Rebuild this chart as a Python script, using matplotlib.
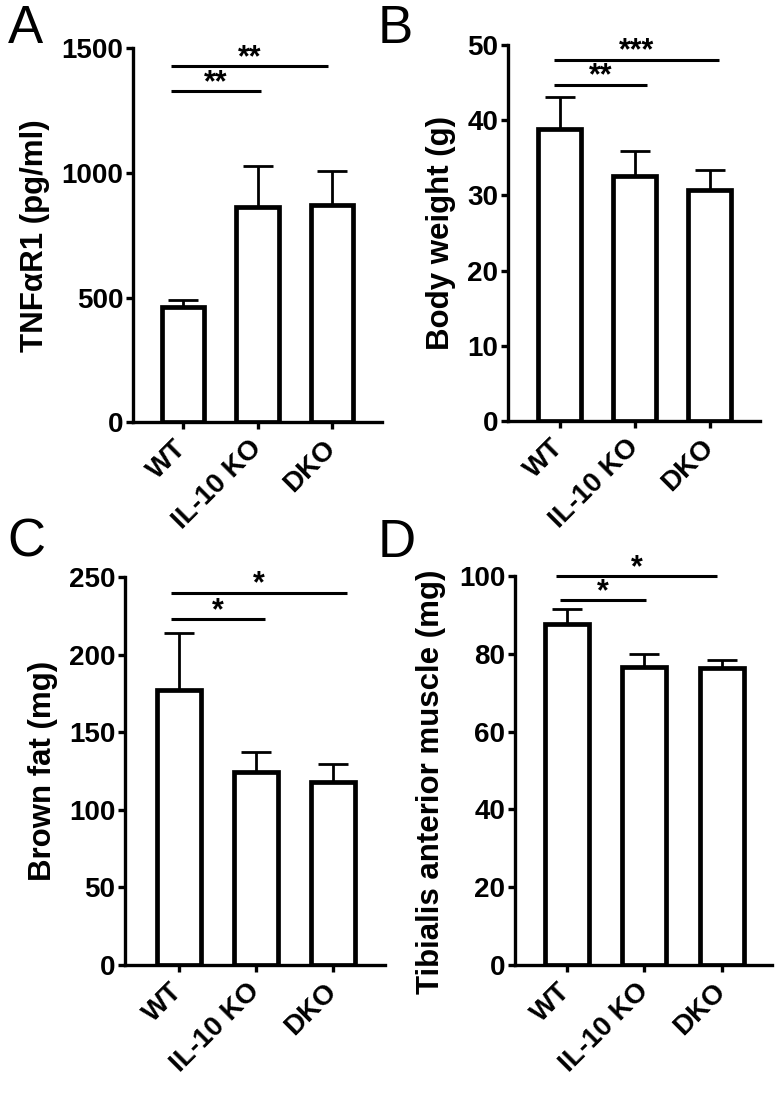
import matplotlib.pyplot as plt
import numpy as np

plt.rcParams['font.family'] = ['Liberation Sans', 'DejaVu Sans']
plt.rcParams['font.weight'] = 'bold'

groups = ['WT', 'IL-10 KO', 'DKO']

# panel A - TNFaR1
tnf_mean = [462, 863, 873]
tnf_sem = [29, 165, 136]
# panel B - body weight
bw_mean = [38.8, 32.6, 30.7]
bw_sem = [4.2, 3.3, 2.6]
# panel C - brown fat
bf_mean = [177.3, 124.5, 118.2]
bf_sem = [36.8, 13.0, 11.1]
# panel D - tibialis anterior
ta_mean = [87.6, 76.7, 76.4]
ta_sem = [3.9, 3.2, 1.9]

# significance bars: (x start, x end, y, label)
tnf_sig = [(-0.16, 1.05, 1328, '**'), (-0.16, 1.95, 1428, '**')]
bw_sig = [(-0.08, 1.17, 44.7, '**'), (-0.08, 2.13, 48.0, '***')]
bf_sig = [(-0.10, 1.12, 223, '*'), (-0.10, 2.18, 240, '*')]
ta_sig = [(-0.09, 1.02, 93.7, '*'), (-0.14, 1.94, 100, '*')]

fig = plt.figure(figsize=(7.76, 10.93), dpi=100)


def panel(rect, means, sems, sig, ymax, ystep, ylabel, xlim):
    ax = fig.add_axes(rect)
    x = np.arange(len(groups))
    ax.errorbar(x, means, yerr=[np.zeros(len(sems)), sems], fmt='none',
                ecolor='black', elinewidth=2, capsize=11, capthick=2, zorder=2)
    ax.bar(x, means, width=0.57, color='white', edgecolor='black',
           linewidth=3.4, zorder=3)
    for x0, x1, y, lab in sig:
        ax.plot([x0, x1], [y, y], color='black', lw=2.2, clip_on=False,
                solid_capstyle='butt')
        ax.annotate(lab, ((x0 + x1) / 2, y), xytext=(0, 0),
                    textcoords='offset points', ha='center', va='baseline',
                    fontsize=22, fontweight='bold', annotation_clip=False)
    ax.set_xlim(*xlim)
    ax.set_ylim(0, ymax)
    ax.set_yticks(np.arange(0, ymax + ystep / 2, ystep))
    ax.set_xticks(x)
    ax.set_xticklabels(groups, rotation=45, ha='right', va='center',
                       rotation_mode='anchor', fontsize=21.5)
    ax.tick_params(axis='both', direction='out', length=5, width=2.4,
                   labelsize=20, pad=2)
    ax.tick_params(axis='x', pad=11)
    for s in ['top', 'right']:
        ax.spines[s].set_visible(False)
    for s in ['left', 'bottom']:
        ax.spines[s].set_linewidth(2.4)
    ax.set_ylabel(ylabel, fontsize=22.5, fontweight='bold', labelpad=8)
    return ax


panel([0.1714, 0.6135, 0.3209, 0.3426], tnf_mean, tnf_sem, tnf_sig,
      1500, 500, 'TNFαR1 (pg/ml)', (-0.67, 2.67))
panel([0.6546, 0.6145, 0.3247, 0.3447], bw_mean, bw_sem, bw_sig,
      50, 10, 'Body weight (g)', (-0.69, 2.67))
panel([0.1611, 0.1171, 0.3350, 0.3550], bf_mean, bf_sem, bf_sig,
      250, 50, 'Brown fat (mg)', (-0.70, 2.675))
ax_d = panel([0.6637, 0.1171, 0.3312, 0.3560], ta_mean, ta_sem, ta_sig,
             100, 20, 'Tibialis anterior muscle (mg)', (-0.67, 2.65))
ax_d.yaxis.set_label_coords(-0.27, 0.47)

for lab, xx, yy in [('A', 0.010, 0.9607), ('B', 0.487, 0.9607),
                    ('C', 0.010, 0.4904), ('D', 0.487, 0.4904)]:
    fig.text(xx, yy, lab, fontsize=38, fontweight='normal',
             ha='left', va='baseline')

fig.savefig('out.png', dpi=100)
